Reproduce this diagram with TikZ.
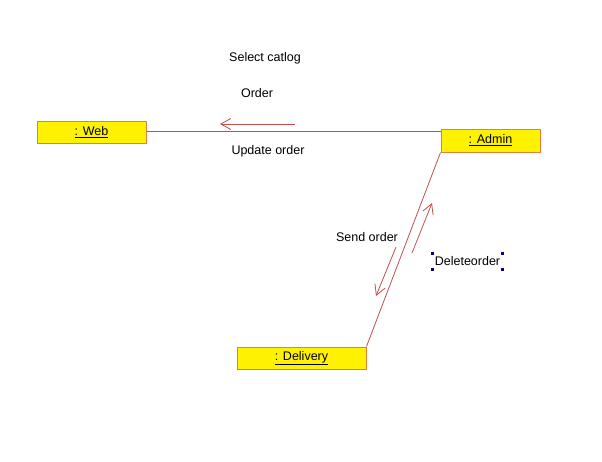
\documentclass[tikz,border=0pt]{standalone}
\usepackage{fontspec}
\setmainfont{Liberation Sans}
\usepackage{tikz}
\usetikzlibrary{arrows.meta, calc}
\definecolor{linkred}{HTML}{C0504D}
\definecolor{boxborder}{HTML}{E0803A}
\tikzset{
  object/.style={draw=boxborder, fill=yellow, line width=1pt, inner sep=0pt, minimum height=22pt},
  link/.style={draw=linkred, line width=0.8pt},
  msg/.style={draw=linkred, line width=0.8pt, -{Straight Barb[length=10pt,width=11pt]}},
  handle/.style={fill=blue!60!black, minimum size=3pt, inner sep=0pt}
}

\begin{document}
\begin{tikzpicture}[x=1pt, y=-1pt, font=\fontsize{12.5}{14}\selectfont]
\useasboundingbox (0,0) rectangle (602,461);

\node[object, minimum width=109pt] (web) at (91.5,132) {\underline{: Web}};
\node[object, minimum width=99pt, minimum height=23pt] (admin) at (490.5,140.5) {\underline{: Admin}};
\node[object, minimum width=129pt] (delivery) at (301.5,358) {\underline{: Delivery}};

\draw[link] (web.east |- 0,131) -- (admin.west |- 0,131);
\draw[link] (admin.south west) -- (delivery.north east);

\coordinate (orderA) at (295,124);
\coordinate (orderB) at (220,124);
\draw[msg] (orderA) -- (orderB);

\coordinate (sendA) at (396,247);
\coordinate (sendB) at (376,296);
\draw[msg] (sendA) -- (sendB);

\coordinate (delA) at (412,253);
\coordinate (delB) at (432,203);
\draw[msg] (delA) -- (delB);

\node (selectcatlog) at (265,58) {Select catlog};
\node (order) at (257,93) {Order};
\node (updateorder) at (268,151) {Update order};
\node (sendorder) at (367,237) {Send order};
\node[minimum width=69pt, minimum height=15pt, inner sep=0pt] (deleteorder) at (467.5,261.5) {Deleteorder};
\foreach \c in {north west, north east, south west, south east}
  \node[handle] at (deleteorder.\c) {};

\end{tikzpicture}
\end{document}
